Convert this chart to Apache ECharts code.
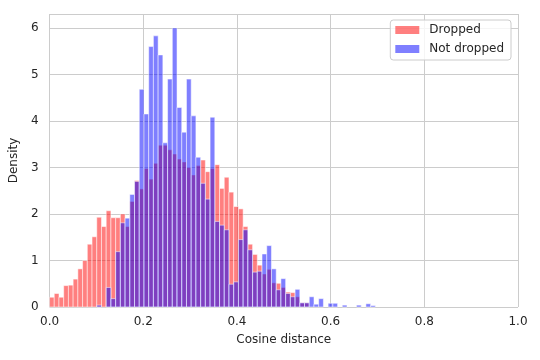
<!DOCTYPE html>
<html>
<head>
<meta charset="utf-8">
<script src="https://cdn.jsdelivr.net/npm/echarts@6/dist/echarts.min.js"></script>
<style>
  html, body { margin: 0; padding: 0; background: #fff; }
  #chart { width: 540px; height: 360px; }
</style>
</head>
<body>
<div id="chart"></div>
<script>
// both histograms share the same bin edges
const binStart = 0.0;
const binWidth = 0.01008;

// density per bin
const dropped = [
  0.21, 0.29, 0.21, 0.46, 0.47, 0.60, 0.82, 1.00, 1.35, 1.51,
  1.93, 1.73, 2.07, 1.92, 1.92, 2.00, 1.73, 2.27, 2.72, 2.54,
  2.98, 2.75, 3.09, 3.48, 3.48, 3.38, 3.29, 3.18, 3.12, 3.00,
  2.84, 3.04, 3.16, 2.91, 2.98, 3.06, 2.55, 2.79, 2.47, 2.16,
  2.11, 1.73, 1.35, 1.13, 0.90, 0.71, 0.81, 0.52, 0.51, 0.42,
  0.32, 0.31, 0.22, 0.09, 0.09
];
const notDropped = [
  0, 0, 0, 0, 0, 0, 0, 0, 0, 0,
  0.04, 0, 0.42, 0.18, 1.19, 1.81, 1.91, 2.42, 2.70, 4.68,
  4.15, 5.60, 5.83, 5.42, 3.53, 4.90, 6.00, 4.29, 3.76, 4.90,
  4.11, 3.22, 2.66, 2.32, 4.08, 1.84, 1.76, 1.66, 0.49, 0.54,
  1.45, 1.66, 1.23, 0.75, 0.77, 1.14, 1.32, 0.82, 0.37, 0.61,
  0.29, 0.22, 0.38, 0.09, 0.09, 0.22, 0.06, 0.18, 0, 0.08,
  0.08, 0, 0.04, 0, 0, 0.04, 0, 0.07, 0.03
];

const redFill = 'rgba(255,0,0,0.5)';
const blueFill = 'rgba(0,0,255,0.5)';
const gridGray = '#cccccc';
const textGray = '#262626';
const font = 'DejaVu Sans';

function toBins(arr) {
  return arr
    .map((h, i) => [binStart + i * binWidth, binStart + (i + 1) * binWidth, h])
    .filter(d => d[2] > 0);
}

function renderBar(color) {
  return function (params, api) {
    const top = api.coord([api.value(0), api.value(2)]);
    const bottom = api.coord([api.value(1), 0]);
    return {
      type: 'rect',
      shape: {
        x: top[0],
        y: top[1],
        width: bottom[0] - top[0],
        height: bottom[1] - top[1]
      },
      style: { fill: color, stroke: 'rgba(255,255,255,0.5)', lineWidth: 1 }
    };
  };
}

const chart = echarts.init(document.getElementById('chart'));

const option = {
  animation: false,
  backgroundColor: '#fff',
  grid: { left: 48, right: 22, top: 14, bottom: 53, containLabel: false },
  legend: {
    data: ['Dropped', 'Not dropped'],
    orient: 'vertical',
    right: 29,
    top: 20,
    icon: 'rect',
    itemWidth: 24,
    itemHeight: 8,
    itemGap: 5,
    padding: [3, 7, 4, 5],
    backgroundColor: 'rgba(255,255,255,0.8)',
    borderColor: gridGray,
    borderWidth: 1,
    borderRadius: 3,
    textStyle: { fontFamily: font, fontSize: 12, color: textGray, lineHeight: 14, padding: [0, 0, 0, 5] }
  },
  xAxis: {
    type: 'value',
    min: 0,
    max: 1,
    interval: 0.2,
    name: 'Cosine distance',
    nameLocation: 'middle',
    nameGap: 27,
    nameTextStyle: { fontFamily: font, fontSize: 12, color: textGray },
    axisLine: { show: false },
    axisTick: { show: false },
    axisLabel: {
      margin: 9,
      fontFamily: font,
      fontSize: 12,
      color: textGray,
      formatter: v => v.toFixed(1)
    },
    splitLine: { show: true, lineStyle: { color: gridGray, width: 1 } }
  },
  yAxis: {
    type: 'value',
    min: 0,
    max: 6.3,
    interval: 1,
    name: 'Density',
    nameLocation: 'middle',
    nameGap: 21,
    nameTextStyle: { fontFamily: font, fontSize: 12, color: textGray },
    axisLine: { show: false },
    axisTick: { show: false },
    axisLabel: {
      margin: 11,
      fontFamily: font,
      fontSize: 12,
      color: textGray,
      showMaxLabel: false,
      formatter: v => (Number.isInteger(v) ? String(v) : '')
    },
    splitLine: { show: true, lineStyle: { color: gridGray, width: 1 } }
  },
  series: [
    {
      name: 'Dropped',
      type: 'custom',
      renderItem: renderBar(redFill),
      itemStyle: { color: redFill },
      encode: { x: [0, 1], y: 2 },
      data: toBins(dropped)
    },
    {
      name: 'Not dropped',
      type: 'custom',
      renderItem: renderBar(blueFill),
      itemStyle: { color: blueFill },
      encode: { x: [0, 1], y: 2 },
      data: toBins(notDropped)
    }
  ]
};

chart.setOption(option);
</script>
</body>
</html>
